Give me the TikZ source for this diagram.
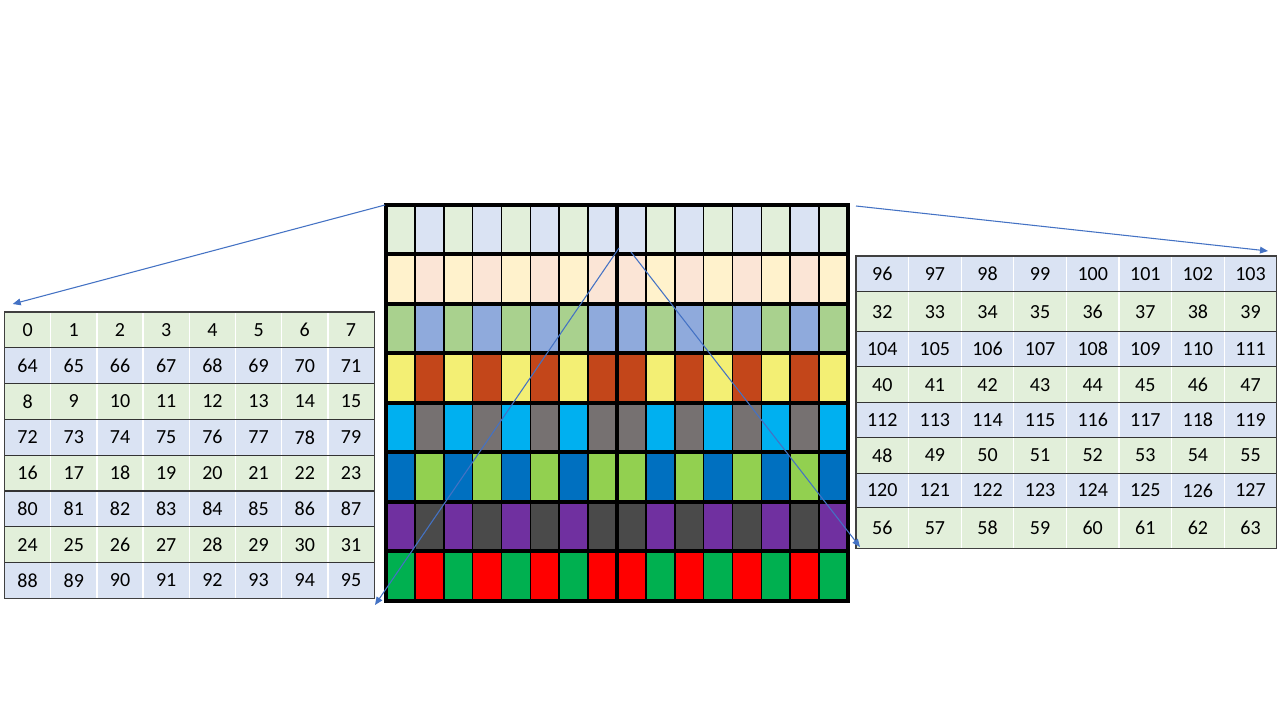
\documentclass[tikz,border=0pt]{standalone}
\usepackage{fontspec}
\setmainfont{Carlito}
\usetikzlibrary{arrows.meta}
\definecolor{lg}{HTML}{E2EFDA}
\definecolor{lb}{HTML}{DAE3F3}
\definecolor{cream}{HTML}{FFF2CC}
\definecolor{peach}{HTML}{FBE5D6}
\definecolor{gtwo}{HTML}{A9D18E}
\definecolor{btwo}{HTML}{8FAADC}
\definecolor{yel}{HTML}{F3EF74}
\definecolor{rust}{HTML}{C3461A}
\definecolor{cyn}{HTML}{00B0F0}
\definecolor{gry}{HTML}{767171}
\definecolor{blu}{HTML}{0070C0}
\definecolor{lime}{HTML}{92D050}
\definecolor{pur}{HTML}{7030A0}
\definecolor{dgy}{HTML}{4A4A4A}
\definecolor{grn}{HTML}{00B050}
\definecolor{rd}{HTML}{FF0000}
\definecolor{arr}{HTML}{4472C4}
\tikzset{
  num/.style={font=\fontsize{15}{18}\selectfont, inner sep=0pt, text=black},
  thinline/.style={line width=1.2pt, black},
  thickline/.style={line width=3pt, black},
  rowline/.style={line width=0.9pt, black!80},
  colsep/.style={line width=1pt, white},
  frame/.style={line width=0.9pt, black!75},
  conn/.style={line width=0.8pt, arr, -{Triangle[length=6pt,width=5pt]}}
}
\begin{document}
\begin{tikzpicture}[x=0.75pt,y=-0.75pt]
\useasboundingbox (0,0) rectangle (1280,720);
\fill[white] (0,0) rectangle (1280,720);
% ---------- central grid ----------
\def\gx{386}\def\gw{28.875}\def\gy{205}\def\gh{49.45}
\foreach [count=\r from 0] \ca/\cb in {lg/lb, cream/peach, gtwo/btwo, yel/rust, cyn/gry, blu/lime, pur/dgy, grn/rd} {
  \foreach \c in {0,...,15} {
    \pgfmathtruncatemacro\k{mod(\c+(\c>7),2)}
    \ifnum\k=0 \def\cc{\ca}\else\def\cc{\cb}\fi
    \fill[\cc] (\gx+\c*\gw, \gy+\r*\gh) rectangle ++(\gw,\gh);
  }
}
\foreach \c in {1,...,7,9,10,...,15}
  \draw[thinline] (\gx+\c*\gw, \gy) -- ++(0, 8*\gh);
\foreach \r in {1,...,7}
  \draw[thickline] (\gx, \gy+\r*\gh) -- ++(16*\gw, 0);
\draw[thickline] (\gx+8*\gw, \gy) -- ++(0, 8*\gh);
\draw[thickline] (\gx,\gy) rectangle ++(16*\gw, 8*\gh);
% ---------- left table ----------
\def\lx{4.5}\def\lw{46.2}\def\ly{312}\def\lh{35.8}
\foreach \r in {0,...,7} {
  \pgfmathtruncatemacro\odd{mod(\r,2)}
  \ifnum\odd=0 \def\cc{lg}\else\def\cc{lb}\fi
  \fill[\cc] (\lx, \ly+\r*\lh) rectangle ++(8*\lw, \lh);
  \foreach \c in {0,...,7} {
    \pgfmathtruncatemacro\v{\odd==0 ? 4*\r+\c : 64+4*(\r-1)+\c}
    \node[num] (L-\r-\c) at (\lx+\c*\lw+0.5*\lw, \ly+\r*\lh+0.5*\lh) {\v};
  }
}
\foreach \c in {1,...,7}
  \draw[colsep] (\lx+\c*\lw, \ly) -- ++(0, 8*\lh);
\foreach \r in {1,...,7}
  \draw[rowline] (\lx, \ly+\r*\lh) -- ++(8*\lw, 0);
\draw[frame] (\lx,\ly) rectangle ++(8*\lw, 8*\lh);
% ---------- right table ----------
\def\rx{856}\def\rw{52.6}
\foreach \r/\ya/\yb in {0/256/291.7, 1/291.7/331.7, 2/331.7/366.7, 3/366.7/402.7, 4/402.7/437.7, 5/437.7/473.3, 6/473.3/507.7, 7/507.7/548.3} {
  \pgfmathtruncatemacro\odd{mod(\r,2)}
  \ifnum\odd=0 \def\cc{lb}\else\def\cc{lg}\fi
  \fill[\cc] (\rx, \ya) rectangle (\rx+8*\rw, \yb);
  \foreach \c in {0,...,7} {
    \pgfmathtruncatemacro\v{\odd==0 ? 96+4*\r+\c : 32+4*(\r-1)+\c}
    \node[num] (R-\r-\c) at (\rx+\c*\rw+0.5*\rw, 0.5*\ya+0.5*\yb) {\v};
  }
}
\foreach \c in {1,...,7}
  \draw[colsep] (\rx+\c*\rw, 256) -- (\rx+\c*\rw, 548.3);
\foreach \y in {291.7, 331.7, 366.7, 402.7, 437.7, 473.3, 507.7}
  \draw[rowline] (\rx, \y) -- ++(8*\rw, 0);
\draw[frame] (\rx,256) rectangle (\rx+8*\rw, 548.3);
% ---------- connectors ----------
\coordinate (a1s) at (385,205);
\coordinate (a1e) at (12.7,304);
\coordinate (a2s) at (856,206);
\coordinate (a2e) at (1268,251);
\coordinate (a3s) at (619,248);
\coordinate (a3e) at (375,605);
\coordinate (a4s) at (631,252);
\coordinate (a4e) at (860,547);
\draw[conn] (a1s) -- (a1e);
\draw[conn] (a2s) -- (a2e);
\draw[conn] (a3s) -- (a3e);
\draw[conn] (a4s) -- (a4e);
\end{tikzpicture}
\end{document}
